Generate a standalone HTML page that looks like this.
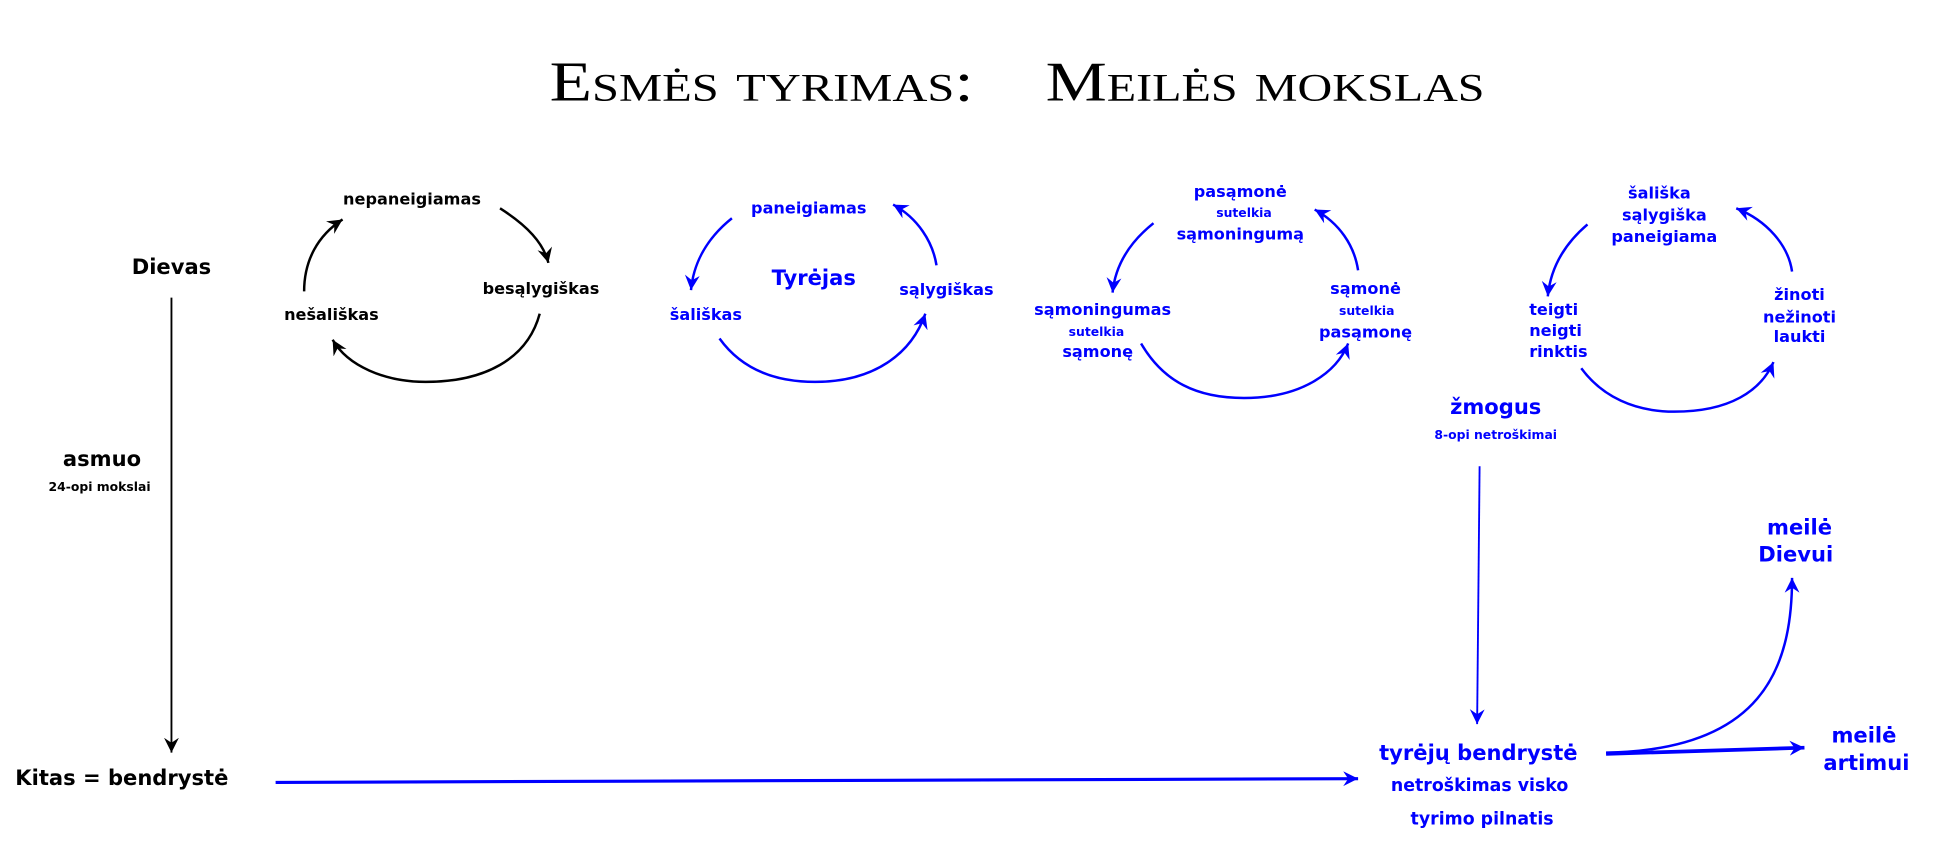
<!DOCTYPE html>
<html><head><meta charset="utf-8"><style>
html,body{margin:0;padding:0;background:#fff;}
svg{display:block;}
text{font-family:"DejaVu Sans","Liberation Sans",sans-serif;font-weight:bold;text-anchor:middle;}
.b{fill:#0000ff;}
.k{fill:#000;}
</style></head><body>
<svg width="1935" height="863" viewBox="0 0 1560 696" xmlns="http://www.w3.org/2000/svg">
<defs>
<marker id="ak" markerUnits="userSpaceOnUse" markerWidth="14" markerHeight="14" refX="12" refY="6" orient="auto"><path d="M0,0 L12,6 L0,12 L4,6 Z" fill="#000"/></marker>
<marker id="ab" markerUnits="userSpaceOnUse" markerWidth="14" markerHeight="14" refX="12" refY="6" orient="auto"><path d="M0,0 L12,6 L0,12 L4,6 Z" fill="#0000ff"/></marker>
</defs>
<text x="443" y="81" textLength="342" lengthAdjust="spacingAndGlyphs" style="font-family:'Liberation Serif',serif;font-weight:normal;font-size:45px;font-variant:small-caps;text-anchor:start;fill:#000">Esmės tyrimas:</text>
<text x="843" y="81" textLength="354" lengthAdjust="spacingAndGlyphs" style="font-family:'Liberation Serif',serif;font-weight:normal;font-size:45px;font-variant:small-caps;text-anchor:start;fill:#000">Meilės mokslas</text>

<g fill="none" stroke="#000" stroke-width="2">
<path d="M245,235 C245,210 256,190 276,177" marker-end="url(#ak)"/>
<path d="M403,168 C425,182 438,196 442,212" marker-end="url(#ak)"/>
<path d="M435,253 C425,290 390,308 343,308 C310,308 280,295 268,274" marker-end="url(#ak)"/>
<path d="M138,240 L138,607" stroke-width="1.5" marker-end="url(#ak)"/>
</g>
<g class="k">
<text x="332" y="165" font-size="13">nepaneigiamas</text>
<text x="436" y="237" font-size="13">besąlygiškas</text>
<text x="267" y="258" font-size="13">nešališkas</text>
<text x="138" y="221" font-size="17">Dievas</text>
<text x="82" y="376" font-size="17">asmuo</text>
<text x="80" y="396" font-size="10">24-opi mokslai</text>
<text x="98" y="633" font-size="17">Kitas = bendrystė</text>
</g>

<g fill="none" stroke="#0000ff" stroke-width="2">
<path d="M590,176 C570,192 559,212 557,234" marker-end="url(#ab)"/>
<path d="M755,214 C752,195 740,176 720,165" marker-end="url(#ab)"/>
<path d="M580,273 C598,298 625,308 657,308 C705,308 735,285 746,253" marker-end="url(#ab)"/>
<path d="M930,180 C910,196 899,215 897,236" marker-end="url(#ab)"/>
<path d="M1095,218 C1092,198 1080,180 1060,169" marker-end="url(#ab)"/>
<path d="M920,277 C938,308 965,321 1003,321 C1050,321 1078,300 1087,277" marker-end="url(#ab)"/>
<path d="M1280,181 C1260,198 1250,218 1248,239" marker-end="url(#ab)"/>
<path d="M1445,219 C1442,198 1425,178 1400,168" marker-end="url(#ab)"/>
<path d="M1275,297 C1292,320 1318,332 1350,332 C1395,332 1420,315 1430,292" marker-end="url(#ab)"/>
<path d="M1193,376 L1191,584" stroke-width="1.5" marker-end="url(#ab)"/>
<path d="M1295,607 C1420,605 1445,540 1445,466" marker-end="url(#ab)"/>
<path d="M1295,608 L1455,603" stroke-width="3" marker-end="url(#ab)"/>
<path d="M222,631 L1095,628" stroke-width="2.5" marker-end="url(#ab)"/>
</g>
<g class="b">
<text x="652" y="172" font-size="13">paneigiamas</text>
<text x="656" y="230" font-size="17">Tyrėjas</text>
<text x="763" y="238" font-size="13">sąlygiškas</text>
<text x="569" y="258" font-size="13">šališkas</text>

<text x="1000" y="159" font-size="13">pasąmonė</text>
<text x="1003" y="175" font-size="10">sutelkia</text>
<text x="1000" y="193" font-size="13">sąmoningumą</text>
<text x="889" y="254" font-size="13">sąmoningumas</text>
<text x="884" y="271" font-size="10">sutelkia</text>
<text x="885" y="288" font-size="13">sąmonę</text>
<text x="1101" y="237" font-size="13">sąmonė</text>
<text x="1102" y="254" font-size="10">sutelkia</text>
<text x="1101" y="272" font-size="13">pasąmonę</text>

<text x="1338" y="160" font-size="13">šališka</text>
<text x="1342" y="178" font-size="13">sąlygiška</text>
<text x="1342" y="195" font-size="13">paneigiama</text>
<text x="1233" y="254" font-size="13" style="text-anchor:start">teigti</text>
<text x="1233" y="271" font-size="13" style="text-anchor:start">neigti</text>
<text x="1233" y="288" font-size="13" style="text-anchor:start">rinktis</text>
<text x="1451" y="242" font-size="13">žinoti</text>
<text x="1451" y="260" font-size="13">nežinoti</text>
<text x="1451" y="276" font-size="13">laukti</text>

<text x="1206" y="334" font-size="17">žmogus</text>
<text x="1206" y="354" font-size="10">8-opi netroškimai</text>

<text x="1451" y="431" font-size="17">meilė</text>
<text x="1448" y="453" font-size="17">Dievui</text>
<text x="1192" y="613" font-size="17">tyrėjų bendrystė</text>
<text x="1193" y="638" font-size="14">netroškimas visko</text>
<text x="1195" y="665" font-size="14">tyrimo pilnatis</text>
<text x="1503" y="599" font-size="17">meilė</text>
<text x="1505" y="621" font-size="17">artimui</text>
</g>
</svg>
</body></html>
